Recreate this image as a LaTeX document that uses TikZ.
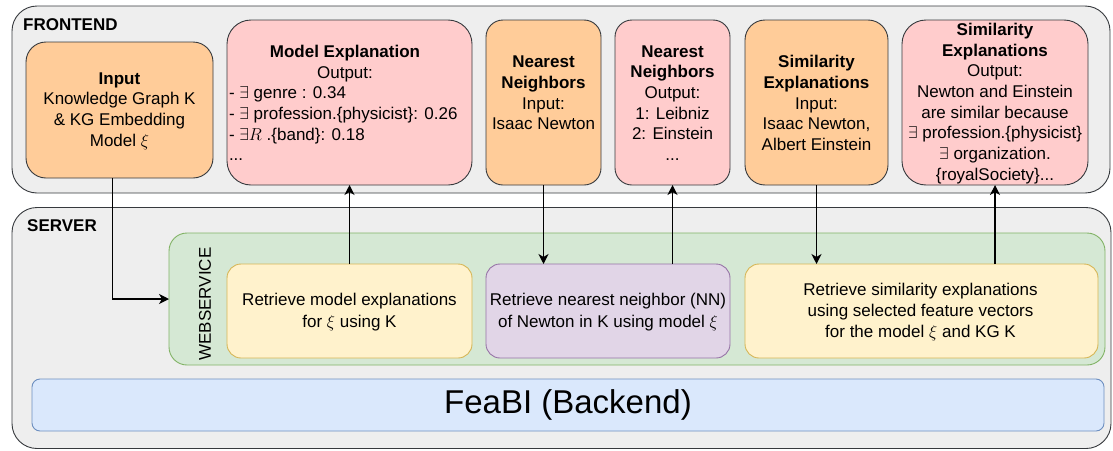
\documentclass[tikz,border=0pt]{standalone}
\usepackage{fontspec}
\setmainfont{Liberation Sans}
\usetikzlibrary{arrows.meta}
\definecolor{contfill}{HTML}{EEEEEE}
\definecolor{contdraw}{HTML}{36393D}
\definecolor{orfill}{HTML}{FFCC99}
\definecolor{pkfill}{HTML}{FFCCCC}
\definecolor{grfill}{HTML}{D5E8D4}
\definecolor{grdraw}{HTML}{82B366}
\definecolor{yefill}{HTML}{FFF2CC}
\definecolor{yedraw}{HTML}{D6B656}
\definecolor{pufill}{HTML}{E1D5E7}
\definecolor{pudraw}{HTML}{9673A6}
\definecolor{blfill}{HTML}{DAE8FC}
\definecolor{bldraw}{HTML}{6C8EBF}
\begin{document}
\begin{tikzpicture}[x=1pt,y=-1pt,
  shapebox/.style={rectangle, line width=0.9pt, inner sep=0pt, outer sep=0pt},
  container/.style={shapebox, draw=contdraw, fill=contfill, rounded corners=25pt},
  orbox/.style={shapebox, draw=contdraw, fill=orfill},
  pkbox/.style={shapebox, draw=contdraw, fill=pkfill},
  wsbox/.style={shapebox, draw=grdraw, fill=grfill, rounded corners=18pt},
  yebox/.style={shapebox, draw=yedraw, fill=yefill, rounded corners=14pt},
  pubox/.style={shapebox, draw=pudraw, fill=pufill, rounded corners=14pt},
  blbox/.style={shapebox, draw=bldraw, fill=blfill, rounded corners=8pt},
  ftxt/.style={inner sep=0pt, align=center, font=\fontsize{17}{20.7}\selectfont},
  stxt/.style={inner sep=0pt, align=center, font=\fontsize{17}{21.3}\selectfont},
  lbl/.style={inner sep=0pt, anchor=west, font=\fontsize{17}{20}\selectfont\bfseries},
  arr/.style={line width=1.3pt, -{Stealth[length=10pt,width=10pt,inset=3pt]}}
]
\useasboundingbox (0,0) rectangle (1113,450);

% containers
\node[container, minimum width=1098pt, minimum height=187pt] (frontend) at (561,99.5) {};
\node[container, minimum width=1099pt, minimum height=241pt] (server) at (561.5,328) {};
\node[lbl] (lfront) at (23,25) {FRONTEND};
\node[lbl] (lserver) at (27,226) {SERVER};

% frontend boxes
\node[orbox, rounded corners=20pt, minimum width=187pt, minimum height=136pt] (input) at (119.5,110) {};
\node[pkbox, rounded corners=24pt, minimum width=245pt, minimum height=165pt] (me) at (349.5,102.5) {};
\node[orbox, rounded corners=17pt, minimum width=115pt, minimum height=165pt] (nnin) at (543.5,102.5) {};
\node[pkbox, rounded corners=17pt, minimum width=115pt, minimum height=165pt] (nnout) at (672.5,102.5) {};
\node[orbox, rounded corners=20pt, minimum width=143pt, minimum height=165pt] (simin) at (816.5,102.5) {};
\node[pkbox, rounded corners=24pt, minimum width=186pt, minimum height=165pt] (simout) at (995,102.5) {};

\node[ftxt] (t-input) at (119.5,111) {\textbf{Input}\\Knowledge Graph K\\\& KG Embedding\\Model $\xi$};
\node[ftxt, align=left] (t-me) at (345,103) {\makebox[232pt]{\textbf{Model Explanation}}\\\makebox[232pt]{Output:}\\- $\exists$ genre : 0.34\\- $\exists$ profession.\{physicist\}: 0.26\\- $\exists R$ .\{band\}: 0.18\\...};
\node[ftxt] (t-nnin) at (543.5,93) {\textbf{Nearest}\\\textbf{Neighbors}\\Input:\\Isaac Newton};
\node[ftxt] (t-nnout) at (672.5,103) {\textbf{Nearest}\\\textbf{Neighbors}\\Output:\\1: Leibniz\\2: Einstein\\...};
\node[ftxt] (t-simin) at (816.5,103) {\textbf{Similarity}\\\textbf{Explanations}\\Input:\\Isaac Newton,\\Albert Einstein};
\node[ftxt] (t-simout) at (995,103.5) {\textbf{Similarity}\\\textbf{Explanations}\\Output:\\Newton and Einstein\\are similar because\\$\exists$ profession.\{physicist\}\\$\exists$ organization.\\\{royalSociety\}...};

% server
\node[wsbox, minimum width=936pt, minimum height=132pt] (ws) at (637,299) {};
\node[ftxt, rotate=90] (t-ws) at (205,304) {WEBSERVICE};
\node[yebox, minimum width=245pt, minimum height=94pt] (y1) at (349.5,311) {};
\node[pubox, minimum width=244pt, minimum height=94pt] (pu) at (608,311) {};
\node[yebox, minimum width=353pt, minimum height=94pt] (y2) at (921.5,311) {};
\node[stxt] (t-y1) at (349.5,312) {Retrieve model explanations\\for $\xi$ using K};
\node[stxt] (t-pu) at (608,312) {Retrieve nearest neighbor (NN)\\of Newton in K using model $\xi$};
\node[stxt] (t-y2) at (920.5,312) {Retrieve similarity explanations\\using selected feature vectors\\for the model $\xi$ and KG K};
\node[blbox, minimum width=1072pt, minimum height=52pt, font=\fontsize{33}{40}\selectfont] (fb) at (568,405) {FeaBI (Backend)};

% connectors
\draw[arr] ([xshift=-7pt]input.south) |- (ws.west);
\draw[arr] (y1.north) -- (me.south);
\draw[arr] (nnin.south) -- (nnin.south |- pu.north);
\draw[arr] (nnout.south |- pu.north) -- (nnout.south);
\draw[arr] (simin.south) -- (simin.south |- y2.north);
\draw[arr] (simout.south |- y2.north) -- (simout.south);
\end{tikzpicture}
\end{document}
